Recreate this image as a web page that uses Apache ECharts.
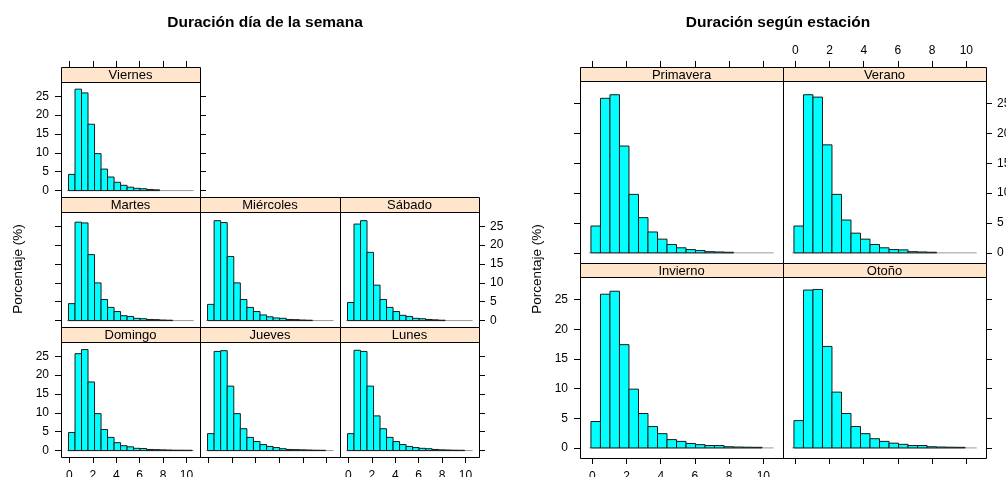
<!DOCTYPE html>
<html><head><meta charset="utf-8">
<script src="https://cdn.jsdelivr.net/npm/echarts@6/dist/echarts.min.js"></script>
<style>html,body{margin:0;padding:0;background:#fff}#c{width:1006px;height:477px}</style>
</head><body><div id="c"></div>
<script>
// ---- data ----
const binStart = -0.08;
const binWidth = 0.556;
const xTicks = [0, 2, 4, 6, 8, 10];
const yTicks = [0, 5, 10, 15, 20, 25];

const domingo   = [4.8, 25.7, 26.8, 18.2, 9.8, 5.6, 3.5, 2.1, 1.3, 1.0, 0.6, 0.55, 0.3, 0.25, 0.2, 0.15, 0.1, 0.1, 0.08];
const jueves    = [4.5, 26.3, 26.5, 17.1, 9.8, 5.8, 3.5, 2.4, 1.6, 1.1, 0.8, 0.5, 0.3, 0.25, 0.2, 0.15, 0.1, 0.08, 0];
const lunes     = [4.5, 26.6, 26.3, 17.1, 9.2, 5.8, 3.5, 2.4, 1.6, 1.1, 0.8, 0.6, 0.5, 0.3, 0.2, 0.15, 0.1, 0.08, 0];
const martes    = [4.5, 26.1, 25.9, 17.5, 10.0, 5.6, 3.5, 2.4, 1.3, 1.1, 0.6, 0.5, 0.3, 0.25, 0.15, 0.1, 0, 0, 0];
const miercoles = [4.3, 26.5, 26.0, 17.0, 10.0, 5.6, 3.5, 2.4, 1.5, 1.0, 0.7, 0.6, 0.3, 0.25, 0.15, 0.1, 0, 0, 0];
const sabado    = [4.8, 25.6, 26.5, 18.1, 9.4, 5.6, 3.5, 2.4, 1.4, 1.1, 0.6, 0.5, 0.3, 0.2, 0.1, 0, 0, 0, 0];
const viernes   = [4.3, 26.9, 25.9, 17.6, 9.8, 5.7, 3.6, 2.2, 1.4, 0.9, 0.6, 0.5, 0.3, 0.2, 0, 0, 0, 0, 0];

const primavera = [4.5, 25.9, 26.5, 17.9, 9.8, 5.9, 3.5, 2.3, 1.4, 0.85, 0.55, 0.4, 0.2, 0.15, 0.1, 0, 0, 0, 0];
const verano    = [4.5, 26.5, 26.1, 18.1, 9.8, 5.5, 3.3, 2.3, 1.4, 0.85, 0.55, 0.5, 0.2, 0.15, 0.1, 0, 0, 0, 0];
const invierno  = [4.45, 25.9, 26.4, 17.4, 9.9, 5.8, 3.6, 2.4, 1.4, 1.1, 0.75, 0.55, 0.4, 0.4, 0.2, 0.15, 0.12, 0.1, 0];
const otono     = [4.6, 26.6, 26.7, 17.1, 9.4, 5.8, 3.6, 2.4, 1.55, 1.1, 0.8, 0.6, 0.4, 0.4, 0.2, 0.15, 0.12, 0.1, 0];

const titleDia = 'Duración día de la semana';
const titleEst = 'Duración según estación';
const yLabel = 'Porcentaje (%)';

// ---- layout ----
const FONT = "'Liberation Sans', Arial, Helvetica, sans-serif";
const XMIN = -0.72, XMAX = 11.15, YMIN = -1.7, YMAX = 28.8;
const L = {cols: [61, 200, 340], widths: [139, 140, 139], rows: [67, 197, 327], stripH: 15, plotH: [115, 115, 115]};
const R = {cols: [580, 783], widths: [203, 203], rows: [67, 263], stripH: 14, plotH: [182, 181]};

// ax: 0 none, 1 ticks, 2 ticks+labels  (l,r,t,b)
const specs = [
  {name: 'Viernes',   vals: viernes,   ch: L, c: 0, r: 0, ax: {l: 2, r: 1, t: 1, b: 0}},
  {name: 'Martes',    vals: martes,    ch: L, c: 0, r: 1, ax: {l: 1, r: 0, t: 0, b: 0}},
  {name: 'Miércoles', vals: miercoles, ch: L, c: 1, r: 1, ax: {l: 0, r: 0, t: 0, b: 0}},
  {name: 'Sábado',    vals: sabado,    ch: L, c: 2, r: 1, ax: {l: 0, r: 2, t: 0, b: 0}},
  {name: 'Domingo',   vals: domingo,   ch: L, c: 0, r: 2, ax: {l: 2, r: 0, t: 0, b: 2}},
  {name: 'Jueves',    vals: jueves,    ch: L, c: 1, r: 2, ax: {l: 0, r: 0, t: 0, b: 1}},
  {name: 'Lunes',     vals: lunes,     ch: L, c: 2, r: 2, ax: {l: 0, r: 1, t: 0, b: 2}},
  {name: 'Primavera', vals: primavera, ch: R, c: 0, r: 0, ax: {l: 1, r: 0, t: 1, b: 0}},
  {name: 'Verano',    vals: verano,    ch: R, c: 1, r: 0, ax: {l: 0, r: 2, t: 2, b: 0}},
  {name: 'Invierno',  vals: invierno,  ch: R, c: 0, r: 1, ax: {l: 2, r: 0, t: 0, b: 2}},
  {name: 'Otoño',     vals: otono,     ch: R, c: 1, r: 1, ax: {l: 0, r: 1, t: 0, b: 1}}
];

const grid = [], xAxis = [], yAxis = [], series = [], graphic = [];

function axisCommon(mode, ticks, margin) {
  return {
    axisLine: {show: false, onZero: false},
    splitLine: {show: false},
    axisTick: {show: mode > 0, length: 6, inside: false, lineStyle: {color: '#000', width: 1}, customValues: ticks},
    axisLabel: {show: mode > 1, customValues: ticks, color: '#000', fontSize: 12, fontFamily: FONT, margin: margin}
  };
}

const stripGrids = [];
specs.forEach((s, gi) => {
  const ch = s.ch;
  const left = ch.cols[s.c], width = ch.widths[s.c];
  const stripTop = ch.rows[s.r];
  const plotTop = stripTop + ch.stripH;
  const plotH = ch.plotH[s.r];
  grid.push({left: left, top: plotTop, width: width, height: plotH, show: false, containLabel: false, outerBoundsMode: 'none'});

  const xb = xAxis.length;
  xAxis.push(Object.assign({type: 'value', gridIndex: gi, min: XMIN, max: XMAX, position: 'bottom'}, axisCommon(s.ax.b, xTicks, 13)));
  const yb = yAxis.length;
  yAxis.push(Object.assign({type: 'value', gridIndex: gi, min: YMIN, max: YMAX, position: 'left'}, axisCommon(s.ax.l, yTicks, 12)));
  if (s.ax.r) yAxis.push(Object.assign({type: 'value', gridIndex: gi, min: YMIN, max: YMAX, position: 'right'}, axisCommon(s.ax.r, yTicks, 11)));
  if (s.ax.t) stripGrids.push({left, width, stripTop, mode: s.ax.t});

  const n = s.vals.length;
  series.push({
    type: 'line', xAxisIndex: xb, yAxisIndex: yb, silent: true, symbol: 'none', z: 1,
    lineStyle: {color: '#9a9a9a', width: 1},
    data: [[binStart - 0.12, 0], [binStart + n * binWidth + 0.12, 0]]
  });
  series.push({
    type: 'custom', xAxisIndex: xb, yAxisIndex: yb, silent: true, z: 2, clip: true,
    dimensions: ['x0', 'x1', 'v'],
    encode: {x: [0, 1], y: 2},
    data: s.vals.map((v, i) => [binStart + i * binWidth, binStart + (i + 1) * binWidth, v]),
    renderItem: function (params, api) {
      const v = api.value(2);
      if (!v) return null;
      const p0 = api.coord([api.value(0), 0]);
      const p1 = api.coord([api.value(1), v]);
      return {type: 'rect', shape: {x: p0[0], y: p1[1], width: p1[0] - p0[0], height: p0[1] - p1[1]},
        style: {fill: '#00FFFF', stroke: '#1a1a1a', lineWidth: 1}};
    }
  });

  // strip
  graphic.push({type: 'rect', z: 100, silent: true,
    shape: {x: left + 0.5, y: stripTop + 0.5, width: width, height: ch.stripH},
    style: {fill: '#FFE5CC', stroke: '#000', lineWidth: 1}});
  graphic.push({type: 'text', z: 101, silent: true, x: left + width / 2, y: stripTop + ch.stripH / 2 + 1,
    style: {text: s.name, font: '13px ' + FONT, fill: '#000', align: 'center', verticalAlign: 'middle', textAlign: 'center', textVerticalAlign: 'middle'}});
  // panel border
  graphic.push({type: 'rect', z: 100, silent: true,
    shape: {x: left + 0.5, y: plotTop + 0.5, width: width, height: plotH},
    style: {fill: 'none', stroke: '#000', lineWidth: 1}});
});

// top axes: a thin grid just above each top strip; ticks point up from the strip's top edge
stripGrids.forEach(sg => {
  const gi = grid.length;
  grid.push({left: sg.left, top: sg.stripTop - 6, width: sg.width, height: 6, show: false, containLabel: false, outerBoundsMode: 'none'});
  const tickAx = axisCommon(sg.mode, xTicks, 0);
  tickAx.axisTick.inside = true;
  tickAx.axisLabel.show = false;
  xAxis.push(Object.assign({type: 'value', gridIndex: gi, min: XMIN, max: XMAX, position: 'bottom'}, tickAx));
  if (sg.mode > 1) {
    const labAx = axisCommon(sg.mode, xTicks, 4);
    labAx.axisTick.show = false;
    xAxis.push(Object.assign({type: 'value', gridIndex: gi, min: XMIN, max: XMAX, position: 'top'}, labAx));
  }
  yAxis.push({type: 'value', gridIndex: gi, min: YMIN, max: YMAX, show: false});
});

function addText(t, x, y, font, rot) {
  graphic.push({type: 'text', z: 101, silent: true, x: x, y: y, rotation: rot || 0,
    style: {text: t, font: font, fill: '#000', align: 'center', verticalAlign: 'middle', textAlign: 'center', textVerticalAlign: 'middle'}});
}
addText(titleDia, 265, 23, 'bold 15.5px ' + FONT);
addText(titleEst, 778, 23, 'bold 15.5px ' + FONT);
addText(yLabel, 18, 269, '13.5px ' + FONT, Math.PI / 2);
addText(yLabel, 537, 269, '13.5px ' + FONT, Math.PI / 2);

const chart = echarts.init(document.getElementById('c'), null, {renderer: 'canvas'});
chart.setOption({animation: false, backgroundColor: '#fff', grid, xAxis, yAxis, series, graphic});
</script></body></html>
